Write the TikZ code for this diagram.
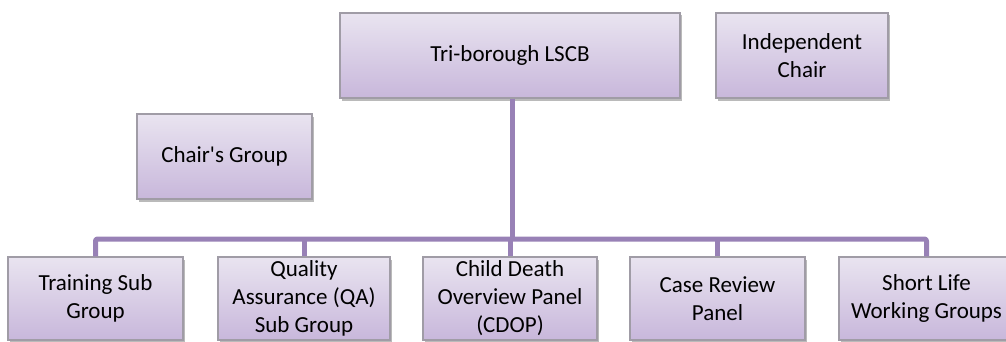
\documentclass[tikz,border=0pt]{standalone}
\usepackage{fontspec}
\setmainfont{Carlito}
\usetikzlibrary{shadows}

\definecolor{boxtop}{HTML}{E9E4F0}
\definecolor{boxbot}{HTML}{C8B7DB}
\definecolor{boxline}{HTML}{A09CA6}
\definecolor{bus}{HTML}{9881B6}

\tikzset{
  unit/.style={draw=boxline, line width=1.2pt, top color=boxtop, bottom color=boxbot,
    drop shadow={shadow xshift=1.5pt, shadow yshift=-2.5pt, fill=black!45, opacity=0.6},
    align=center, inner sep=0pt, minimum height=85pt, text=black,
    font=\fontsize{23}{28}\selectfont},
  link/.style={draw=bus, line width=5pt, line join=round, rounded corners=2pt}
}

\begin{document}
\begin{tikzpicture}[x=1pt, y=1pt]
  \useasboundingbox (0,0) rectangle (1006,341);

  % top row
  \node[unit, minimum width=340pt] (lscb) at (510,285.5) {Tri-borough LSCB};
  \node[unit, minimum width=172pt] (indep) at (802,285.5) {Independent\\Chair};
  \node[unit, minimum width=175pt] (chairs) at (224.5,184.5) {Chair\textquotesingle s Group};

  % sub groups
  \node[unit, minimum width=175pt, minimum height=83pt] (train) at (95.5,42.5) {Training Sub\\Group};
  \node[unit, minimum width=172pt, minimum height=83pt] (qa) at (304,42.5) {Quality\\Assurance (QA)\\Sub Group};
  \node[unit, minimum width=174pt, minimum height=83pt] (cdop) at (510,42.5) {Child Death\\Overview Panel\\(CDOP)};
  \node[unit, minimum width=175pt, minimum height=83pt] (review) at (717.5,42.5) {Case Review\\Panel};
  \node[unit, minimum width=175pt, minimum height=83pt] (slwg) at (926.5,42.5) {Short Life\\Working Groups};

  % connectors
  \coordinate (bar) at (512,102);
  \draw[link] (train.north) -- (train.north |- bar) -- (slwg.north |- bar) -- (slwg.north);
  \foreach \n in {qa,cdop,review}
    \draw[link] (\n.north) -- (\n.north |- bar);
  \draw[link] (lscb.south -| bar) -- (bar);
\end{tikzpicture}
\end{document}
